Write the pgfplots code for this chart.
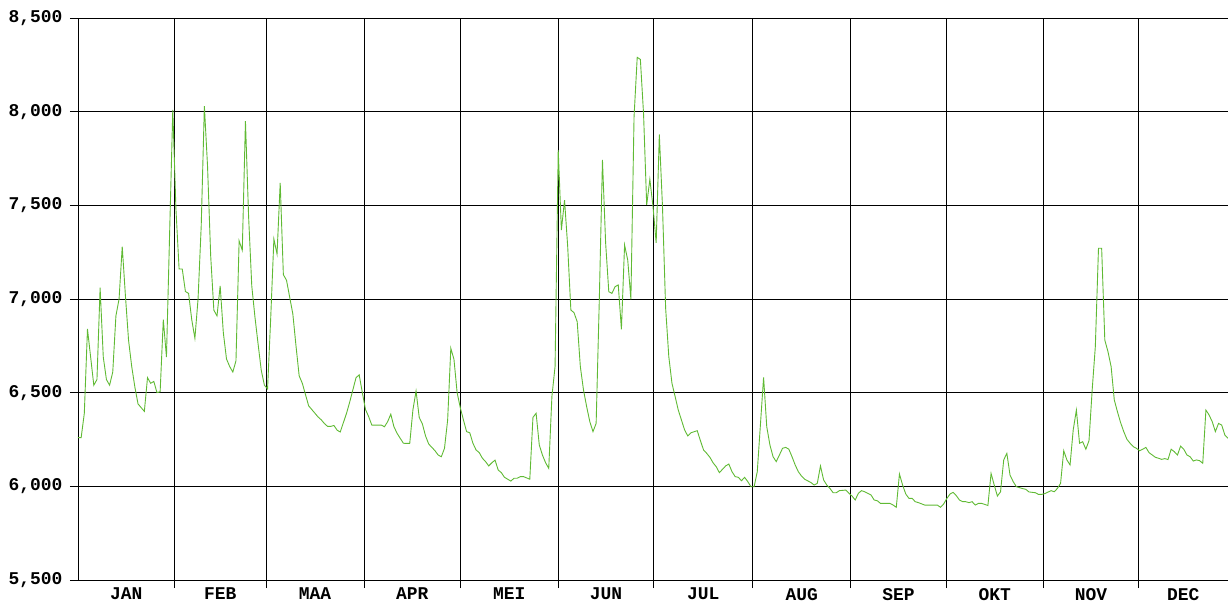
\documentclass[border=0pt]{standalone}
\usepackage{fontspec}
\setmainfont{Liberation Mono}
\usepackage{pgfplots}
\pgfplotsset{compat=1.18}
\definecolor{linegreen}{RGB}{96,186,52}

% daily values, x = day of year (0 = 1 Jan)
\pgfplotstableread{
d v
0 6260
1 6260
2 6390
3 6840
5 6540
6 6570
7 7060
8 6690
9 6570
10 6540
11 6610
12 6910
13 7000
14 7280
15 7020
16 6780
17 6640
18 6530
19 6440
20 6420
21 6400
22 6580
23 6550
24 6560
25 6500
26 6505
27 6890
28 6690
30 8010
31 7480
32 7160
33 7160
34 7040
35 7030
36 6890
37 6790
38 7000
39 7390
40 8030
41 7710
42 7230
43 6940
44 6910
45 7070
46 6820
47 6680
48 6640
49 6610
50 6670
51 7310
52 7260
53 7950
54 7440
55 7070
56 6905
57 6760
58 6620
59 6540
60 6520
61 6900
62 7320
63 7240
64 7620
65 7130
66 7100
68 6920
69 6750
70 6590
71 6550
72 6490
73 6430
75 6390
76 6370
77 6355
78 6335
79 6320
80 6320
81 6325
82 6300
83 6290
85 6390
86 6450
87 6515
88 6580
89 6595
90 6500
91 6410
92 6372
93 6327
95 6327
96 6327
97 6318
98 6345
99 6385
100 6318
101 6283
102 6256
103 6230
104 6229
105 6229
106 6407
107 6509
108 6368
109 6333
110 6269
111 6226
112 6208
113 6190
114 6167
115 6158
116 6203
117 6354
118 6737
119 6678
120 6500
121 6420
122 6354
123 6292
124 6286
125 6230
126 6194
127 6180
128 6150
129 6132
130 6109
131 6126
132 6140
133 6087
134 6073
135 6048
136 6038
137 6028
138 6043
139 6043
140 6052
141 6052
143 6038
144 6368
145 6390
146 6221
147 6167
148 6126
149 6096
150 6480
151 6640
152 7795
153 7368
154 7528
155 7279
156 6941
157 6927
158 6879
159 6639
160 6514
161 6425
162 6345
163 6292
164 6336
165 6995
166 7742
167 7300
168 7039
169 7030
170 7066
171 7075
172 6838
173 7288
174 7208
175 6998
176 7973
177 8290
178 8279
179 7991
180 7502
181 7639
182 7493
183 7300
184 7878
185 7493
186 6950
187 6692
188 6550
189 6479
190 6407
191 6354
192 6301
193 6269
194 6286
196 6297
197 6244
198 6194
199 6176
200 6155
201 6126
202 6105
203 6073
205 6109
206 6119
207 6078
208 6052
209 6048
210 6030
211 6048
212 6025
213 5998
214 5998
215 6078
217 6582
218 6318
219 6221
220 6158
221 6132
222 6167
223 6203
224 6208
225 6198
226 6158
227 6114
228 6078
229 6055
230 6038
232 6020
233 6007
234 6016
235 6109
236 6034
237 6007
238 5989
239 5966
240 5966
241 5977
243 5980
244 5963
245 5948
246 5927
247 5963
248 5977
249 5971
251 5954
252 5927
253 5923
254 5909
256 5909
257 5909
258 5900
259 5888
260 6066
261 6007
262 5959
263 5936
264 5936
265 5918
266 5913
268 5900
270 5900
271 5900
272 5900
273 5888
274 5906
275 5935
276 5959
277 5968
278 5950
279 5927
280 5918
281 5918
282 5913
283 5918
284 5900
285 5909
286 5909
288 5898
289 6069
290 6007
291 5948
292 5971
293 6141
294 6176
295 6060
296 6025
297 5998
299 5988
300 5984
301 5970
303 5966
304 5957
305 5957
306 5961
308 5977
309 5971
310 5989
311 6016
312 6190
313 6141
314 6114
315 6301
316 6407
317 6230
318 6238
319 6198
320 6244
321 6514
322 6746
323 7271
324 7271
325 6781
326 6719
327 6639
328 6461
329 6398
330 6340
331 6292
332 6251
333 6230
334 6212
335 6203
336 6190
337 6198
338 6208
339 6180
341 6155
342 6150
343 6144
344 6148
345 6143
346 6198
347 6185
348 6167
349 6215
350 6198
351 6167
352 6158
353 6135
354 6141
355 6137
356 6123
357 6407
358 6381
359 6345
360 6292
361 6336
362 6327
363 6274
364 6256
}\daily

\begin{document}
\begin{tikzpicture}
\path[use as bounding box] (-78bp,-23bp) rectangle (1150bp,580bp);
\begin{axis}[
  at={(0,0)}, anchor=south west,
  scale only axis, width=1150bp, height=562bp,
  xmin=0, xmax=364, ymin=5500, ymax=8500,
  ytick distance=500,
  xtick={30.6,59.5,90.6,121,152,182.2,213.6,244.6,274.8,305.5,335.6},
  xticklabels={},
  extra x ticks={15.3,45,75,105.8,136.5,167.1,197.9,229.1,259.7,290.2,320.6,349.8},
  extra x tick labels={JAN,FEB,MAA,APR,MEI,JUN,JUL,AUG,SEP,OKT,NOV,DEC},
  extra x tick style={grid=none, major tick length=0pt,
    xticklabel style={yshift=-4.5bp}},
  grid=major,
  major grid style={black, line width=0.8bp},
  axis line style={black, line width=0.8bp},
  tick style={black, line width=0.8bp},
  tick align=outside, major tick length=8bp,
  xtick pos=bottom, ytick pos=left,
  tick label style={font=\fontsize{18}{20}\selectfont\bfseries},
  yticklabel style={xshift=-4bp},
  /pgf/number format/assume math mode=true,
  /pgf/number format/1000 sep={,},
  clip=true,
]
\addplot[linegreen, line width=0.9bp, mark=none] table[x=d, y=v] {\daily};
\end{axis}
\end{tikzpicture}
\end{document}
